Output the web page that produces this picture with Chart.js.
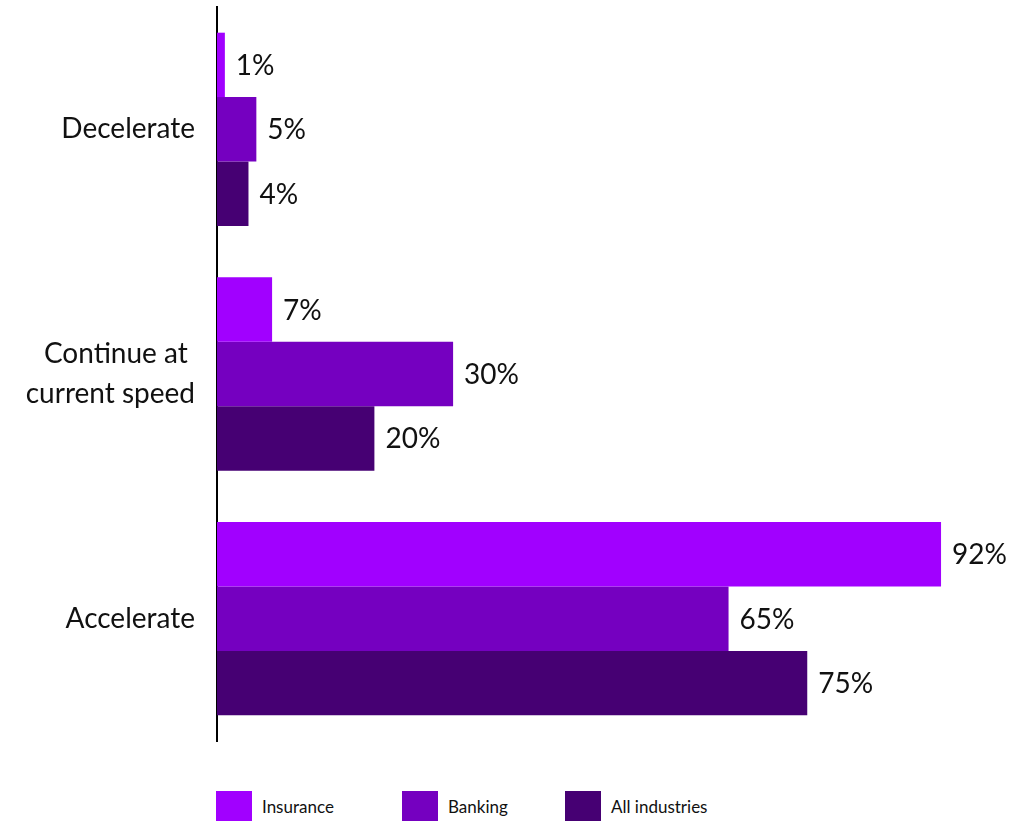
<!DOCTYPE html>
<html>
<head>
<meta charset="utf-8">
<script src="https://cdn.jsdelivr.net/npm/chart.js@4.4.1/dist/chart.umd.min.js"></script>
<style>
  html, body { margin: 0; padding: 0; background: #fff; }
  #wrap { position: relative; width: 1012px; height: 822px; }
  #chart { position: absolute; left: 0; top: 0; }
  #legend { position: absolute; left: 216px; top: 791px; display: flex; font-family: Lato, sans-serif; font-size: 17px; color: #111; }
  #legend .item { display: flex; align-items: center; }
  #legend .box { width: 36px; height: 30px; margin-right: 10px; }
</style>
</head>
<body>
<div id="wrap">
  <canvas id="chart" width="1012" height="780"></canvas>
  <div id="legend"></div>
</div>
<script>
// categories, top to bottom
const categories = ['Decelerate', ['Continue at ', 'current speed'], 'Accelerate'];
const seriesNames = ['Insurance', 'Banking', 'All industries'];
const insurance = [1, 7, 92];
const banking = [5, 30, 65];
const allIndustries = [4, 20, 75];
const colors = ['#a100ff', '#7500c0', '#460073'];

const FONT = 'Lato, sans-serif';

// draws "NN%" just past the end of each bar
const valueLabels = {
  id: 'valueLabels',
  afterDatasetsDraw(chart) {
    const ctx = chart.ctx;
    ctx.save();
    ctx.font = '28px ' + FONT;
    ctx.fillStyle = '#111';
    ctx.textBaseline = 'middle';
    ctx.textAlign = 'left';
    chart.data.datasets.forEach((ds, i) => {
      chart.getDatasetMeta(i).data.forEach((bar, j) => {
        ctx.fillText(ds.data[j] + '%', bar.x + 11, bar.y + 1);
      });
    });
    ctx.restore();
  }
};

const chart = new Chart(document.getElementById('chart'), {
  type: 'bar',
  data: {
    labels: categories,
    datasets: [
      { label: seriesNames[0], data: insurance, backgroundColor: colors[0] },
      { label: seriesNames[1], data: banking, backgroundColor: colors[1] },
      { label: seriesNames[2], data: allIndustries, backgroundColor: colors[2] }
    ]
  },
  options: {
    indexAxis: 'y',
    responsive: false,
    animation: false,
    categoryPercentage: 0.79,
    barPercentage: 1,
    layout: { padding: { top: 7, right: 8, bottom: 39, left: 0 } },
    plugins: { legend: { display: false }, tooltip: { enabled: false } },
    scales: {
      x: { display: false, min: 0, max: 100 },
      y: {
        grid: { display: false },
        border: { display: true, color: '#000', width: 2 },
        ticks: {
          color: '#111',
          padding: 14,
          font: { family: FONT, size: 28, lineHeight: 1.4 }
        },
        afterFit(scale) {
          scale.width = 217;
          // labels sit inside the slots, no extra room needed above/below
          scale.paddingTop = 0;
          scale.paddingBottom = 0;
        }
      }
    }
  },
  plugins: [valueLabels]
});

// html legend built from the datasets
const legendEl = document.getElementById('legend');
const itemWidths = [186, 163, null];
chart.data.datasets.forEach((ds, i) => {
  const item = document.createElement('div');
  item.className = 'item';
  if (itemWidths[i]) item.style.width = itemWidths[i] + 'px';
  item.innerHTML = '<span class="box" style="background:' + ds.backgroundColor + '"></span><span>' + ds.label + '</span>';
  legendEl.appendChild(item);
});
</script>
</body>
</html>
